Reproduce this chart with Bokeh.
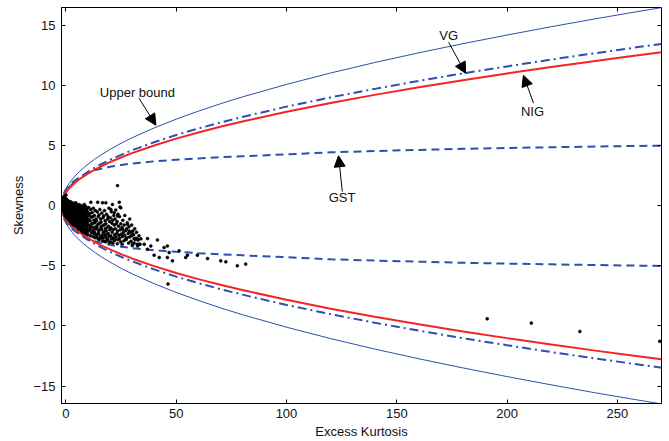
from bokeh.plotting import figure
from bokeh.models import Range1d, FixedTicker, LinearAxis, Label, Arrow, NormalHead
from bokeh.embed import file_html
from bokeh.resources import INLINE

# ---------------- data ----------------
kurt_grid = [-2, -1.8, -1.5, -1, -0.5, 0, 0.5, 1, 2, 3, 4, 6, 8, 10, 13, 16, 20, 25, 30,
             40, 50, 60, 70, 80, 100, 120, 140, 160, 180, 200, 220, 240, 255, 270]
upper_bound = [0, 0.45, 0.71, 1.0, 1.22, 1.41, 1.58, 1.73, 2.0, 2.24, 2.45, 2.83, 3.16, 3.46,
               3.87, 4.24, 4.69, 5.20, 5.66, 6.48, 7.21, 7.87, 8.49, 9.06, 10.10, 11.05,
               11.92, 12.73, 13.49, 14.21, 14.90, 15.56, 16.03, 16.49]
nig_bound = [0, 0.35, 0.55, 0.77, 0.95, 1.10, 1.22, 1.34, 1.55, 1.73, 1.90, 2.19, 2.45, 2.68,
             3.0, 3.29, 3.63, 4.02, 4.38, 5.02, 5.59, 6.10, 6.57, 7.01, 7.82, 8.56, 9.23,
             9.86, 10.45, 11.01, 11.54, 12.05, 12.42, 12.77]
vg_bound = [0, 0.37, 0.58, 0.82, 1.0, 1.15, 1.29, 1.41, 1.63, 1.83, 2.0, 2.31, 2.58, 2.83,
            3.16, 3.46, 3.83, 4.24, 4.62, 5.29, 5.89, 6.43, 6.93, 7.39, 8.25, 9.02, 9.73,
            10.39, 11.02, 11.60, 12.17, 12.70, 13.09, 13.47]
gst_bound = [0, 0.4, 0.7, 1.0, 1.2, 1.35, 1.5, 1.6, 1.8, 1.95, 2.1, 2.35, 2.55, 2.72, 2.95,
             3.08, 3.25, 3.4, 3.52, 3.7, 3.83, 3.94, 4.04, 4.12, 4.28, 4.45, 4.56, 4.65,
             4.74, 4.81, 4.87, 4.93, 4.97, 5.0]

# empirical (excess kurtosis, skewness) pairs
sample_pts = [
    (-1.5, 0.5), (-1.5, 0.2), (-1.5, -0.1), (-1.5, -0.3), (-1.5, 0.7),
    (-1.0, 0.6), (-1.0, 0.3), (-1.0, 0.0), (-1.0, -0.2), (-1.0, -0.5), (-1.0, 0.4),
    (-0.5, 0.8), (-0.5, 0.5), (-0.5, 0.1), (-0.5, -0.3), (-0.5, -0.6), (-0.5, -0.8), (-0.5, 0.2),
    (0.0, 0.6), (0.0, 0.3), (0.0, 0.0), (0.0, -0.4), (0.0, -0.7), (0.0, -0.9), (0.0, 0.9), (0.0, -0.2),
    (0.5, 0.5), (0.5, 0.1), (0.5, -0.2), (0.5, -0.6), (0.5, -0.9), (0.5, -1.0), (0.5, 0.3),
    (1.0, 0.4), (1.0, 0.0), (1.0, -0.3), (1.0, -0.5), (1.0, -0.8), (1.0, -1.1), (1.0, 0.2), (1.0, -0.7),
    (1.5, 0.3), (1.5, -0.1), (1.5, -0.4), (1.5, -0.7), (1.5, -0.9), (1.5, -1.2), (1.5, -0.2),
    (2.0, 0.35), (2.0, 0.05), (2.0, -0.3), (2.0, -0.6), (2.0, -0.85), (2.0, -1.1), (2.0, -1.3), (2.0, -0.45),
    (2.5, 0.2), (2.5, -0.15), (2.5, -0.5), (2.5, -0.75), (2.5, -1.0), (2.5, -1.25), (2.5, -1.4),
    (3.0, 0.25), (3.0, 0.0), (3.0, -0.35), (3.0, -0.65), (3.0, -0.9), (3.0, -1.15), (3.0, -1.4), (3.0, -1.5),
    (3.5, 0.1), (3.5, -0.2), (3.5, -0.5), (3.5, -0.8), (3.5, -1.05), (3.5, -1.3), (3.5, -1.55),
    (4.0, 0.2), (4.0, -0.1), (4.0, -0.4), (4.0, -0.7), (4.0, -0.95), (4.0, -1.2), (4.0, -1.45), (4.0, -1.65),
    (4.5, -0.05), (4.5, -0.3), (4.5, -0.6), (4.5, -0.85), (4.5, -1.1), (4.5, -1.35), (4.5, -1.6), (4.5, 0.15),
    (5.0, 0.05), (5.0, -0.25), (5.0, -0.55), (5.0, -0.8), (5.0, -1.05), (5.0, -1.3), (5.0, -1.55), (5.0, -1.75),
    (5.5, -0.15), (5.5, -0.45), (5.5, -0.75), (5.5, -1.0), (5.5, -1.25), (5.5, -1.5), (5.5, -1.7), (5.5, -1.85),
    (6.0, 0.1), (6.0, -0.2), (6.0, -0.5), (6.0, -0.8), (6.0, -1.1), (6.0, -1.35), (6.0, -1.6), (6.0, -1.8), (6.0, -1.95),
    (6.5, -0.1), (6.5, -0.4), (6.5, -0.7), (6.5, -0.95), (6.5, -1.2), (6.5, -1.45), (6.5, -1.7), (6.5, -1.9),
    (7.0, 0.0), (7.0, -0.3), (7.0, -0.6), (7.0, -0.9), (7.0, -1.15), (7.0, -1.4), (7.0, -1.65), (7.0, -1.85), (7.0, -2.05),
    (7.5, -0.2), (7.5, -0.5), (7.5, -0.8), (7.5, -1.05), (7.5, -1.3), (7.5, -1.55), (7.5, -1.8), (7.5, -2.0), (7.5, -2.15),
    (8.0, -0.1), (8.0, -0.45), (8.0, -0.75), (8.0, -1.0), (8.0, -1.25), (8.0, -1.5), (8.0, -1.75), (8.0, -1.95), (8.0, -2.2),
    (8.5, -0.3), (8.5, -0.6), (8.5, -0.9), (8.5, -1.2), (8.5, -1.45), (8.5, -1.7), (8.5, -1.9), (8.5, -2.1), (8.5, -2.25),
    (9.0, -0.05), (9.0, -0.4), (9.0, -0.7), (9.0, -1.0), (9.0, -1.3), (9.0, -1.55), (9.0, -1.8), (9.0, -2.0), (9.0, -2.3),
    (9.5, -0.25), (9.5, -0.55), (9.5, -0.85), (9.5, -1.15), (9.5, -1.4), (9.5, -1.65), (9.5, -1.9), (9.5, -2.15), (9.5, -2.35),
    (10.3, -0.15), (9.8, -0.5), (10.6, -0.8), (10.1, -1.1), (9.7, -1.35), (10.4, -1.6), (10.8, -1.85), (10.2, -2.1), (9.9, -2.4),
    (11.2, -0.3), (10.8, -0.65), (11.5, -0.95), (11.0, -1.25), (11.7, -1.5), (11.3, -1.75), (10.9, -2.0), (11.6, -2.25), (11.1, -2.5),
    (12.4, -0.2), (11.9, -0.55), (12.2, -0.9), (12.7, -1.2), (12.0, -1.5), (12.5, -1.8), (12.1, -2.05), (12.8, -2.3), (12.3, -2.55),
    (13.3, -0.4), (12.9, -0.8), (13.6, -1.1), (13.1, -1.4), (13.8, -1.7), (13.4, -1.95), (12.9, -2.2), (13.7, -2.45), (13.2, -2.65),
    (14.2, -0.5), (14.7, -0.9), (13.9, -1.25), (14.5, -1.55), (14.1, -1.85), (14.8, -2.1), (14.3, -2.35), (14.0, -2.6), (14.6, -2.75),
    (15.4, -0.3), (15.0, -0.75), (15.7, -1.1), (15.2, -1.45), (15.9, -1.75), (15.3, -2.0), (14.9, -2.3), (15.6, -2.55), (15.1, -2.8),
    (16.3, -0.6), (16.8, -1.0), (16.0, -1.35), (16.6, -1.65), (16.2, -1.95), (16.9, -2.2), (16.4, -2.45), (16.1, -2.7), (16.7, -2.9),
    (17.5, -0.4), (17.1, -0.85), (17.8, -1.25), (17.3, -1.6), (17.9, -1.9), (17.2, -2.15), (17.6, -2.4), (17.0, -2.65), (17.4, -2.95),
    (18.4, -0.7), (18.9, -1.1), (18.1, -1.5), (18.7, -1.8), (18.3, -2.1), (18.8, -2.35), (18.2, -2.6), (18.6, -2.85), (18.0, -3.0),
    (19.5, -0.2), (19.1, -0.9), (19.8, -1.3), (19.3, -1.7), (19.9, -2.0), (19.2, -2.3), (19.6, -2.55), (19.0, -2.8), (19.7, -3.05),
    (20.6, -0.5), (20.2, -1.0), (20.9, -1.45), (20.4, -1.85), (21.0, -2.2), (20.3, -2.5), (20.7, -2.75), (20.1, -3.0),
    (21.7, -0.8), (21.2, -1.2), (21.9, -1.6), (21.4, -2.0), (22.1, -2.4), (21.5, -2.65), (21.8, -2.9), (21.3, -3.1),
    (22.6, -0.35), (22.2, -1.1), (22.9, -1.5), (22.4, -1.9), (23.1, -2.3), (22.7, -2.6), (22.3, -2.85),
    (23.6, -0.7), (23.2, -1.3), (23.9, -1.7), (23.4, -2.1), (24.1, -2.45), (23.7, -2.8), (23.3, -3.15),
    (24.5, -0.1), (24.3, -0.9), (24.9, -1.5), (24.6, -2.0), (25.2, -2.35), (24.4, -2.7), (24.8, -3.0),
    (25.8, -1.2), (25.4, -1.8), (26.1, -2.2), (25.6, -2.55), (26.3, -2.9), (25.5, -3.2),
    (26.7, -0.8), (26.4, -1.6), (27.1, -2.05), (26.6, -2.45), (27.3, -2.8),
    (27.8, -1.4), (27.5, -1.9), (28.2, -2.3), (27.6, -2.65), (28.4, -3.1),
    (28.9, -1.1), (28.6, -1.75), (29.3, -2.2), (28.8, -2.6), (29.5, -2.95),
    (29.8, -1.6), (30.3, -2.1), (29.7, -2.5), (30.1, -3.3),
    (31.2, -1.9), (30.7, -2.4), (31.4, -2.8), (30.9, -3.1),
    (32.0, -2.2), (31.8, -2.7), (32.3, -3.2), (33.1, -2.5), (32.7, -2.85), (34.0, -2.75), (33.6, -3.2),
    (4.5, 0.25), (8.3, 0.11), (11.3, 0.3), (14.4, 0.3), (16.6, 0.25), (18.1, 0.25), (21.1, 0.11),
    (24.2, 0.3), (24.9, -0.17), (20.4, -0.31), (21.9, -0.58), (23.4, 1.68),
    (23.4, -0.85), (25.7, -1.96), (27.9, -1.54), (28.7, -2.09), (30.2, -2.37), (30.9, -2.73),
    (32.5, -2.78), (33.2, -3.2), (37.0, -2.73), (41.5, -2.84), (44.5, -3.48), (46.0, -3.34),
    (46.8, -3.89), (40.0, -4.11), (42.3, -4.30), (46.0, -4.30), (48.3, -4.58), (51.3, -3.75),
    (55.1, -4.11), (54.3, -4.30), (59.6, -4.11), (64.2, -4.39), (70.2, -4.58), (72.5, -4.66),
    (77.7, -4.99), (81.5, -4.85), (37.0, -3.61), (35.5, -3.2), (38.5, -3.34), (32.5, -3.34),
    (30.2, -3.2), (27.2, -2.73), (46.3, -6.5),
    (191.0, -9.4), (211.0, -9.76), (233.0, -10.45), (269.2, -11.28),
]
sample_kurt = [p[0] for p in sample_pts]
sample_skew = [p[1] for p in sample_pts]

x_ticks = [0, 50, 100, 150, 200, 250]
y_ticks = [-15, -10, -5, 0, 5, 10, 15]
y_tick_labels = {-15: "\u221215", -10: "\u221210", -5: "\u22125", 0: "0", 5: "5", 10: "10", 15: "15"}

# ---------------- figure ----------------
FONT = "Liberation Sans"
BLUE = "#2d4fae"
RED = "#f52424"

p = figure(width=669, height=441, output_backend="svg", toolbar_location=None,
           x_range=Range1d(-2, 270), y_range=Range1d(-16.45, 16.5),
           min_border_left=61, min_border_right=8, min_border_top=7, min_border_bottom=37)
p.xgrid.visible = False
p.ygrid.visible = False
p.outline_line_color = "black"
p.outline_line_alpha = 1.0
p.outline_line_width = 1
p.background_fill_color = "white"
p.border_fill_color = "white"

neg = lambda arr: [-v for v in arr]

p.line(kurt_grid, upper_bound, line_color=BLUE, line_width=1)
p.line(kurt_grid, neg(upper_bound), line_color=BLUE, line_width=1)
p.line(kurt_grid, gst_bound, line_color=BLUE, line_width=2, line_dash="8 5")
p.line(kurt_grid, neg(gst_bound), line_color=BLUE, line_width=2, line_dash="8 5")
p.line(kurt_grid, vg_bound, line_color=BLUE, line_width=2, line_dash="9 4 2 4")
p.line(kurt_grid, neg(vg_bound), line_color=BLUE, line_width=2, line_dash="9 4 2 4")
p.line(kurt_grid, nig_bound, line_color=RED, line_width=2)
p.line(kurt_grid, neg(nig_bound), line_color=RED, line_width=2)

p.scatter(sample_kurt, sample_skew, size=3, fill_color="black", line_color="black", line_width=0.5)

# axes
def style_axis(ax, ticks):
    ax.ticker = FixedTicker(ticks=ticks)
    ax.major_tick_in = 4
    ax.major_tick_out = 0
    ax.minor_tick_in = 0
    ax.minor_tick_out = 0
    ax.major_tick_line_color = "black"
    ax.axis_line_color = "black"
    ax.major_label_text_font = FONT
    ax.major_label_text_font_size = "13px"
    ax.major_label_text_color = "#111111"
    ax.axis_label_text_font = FONT
    ax.axis_label_text_font_size = "13px"
    ax.axis_label_text_font_style = "normal"
    ax.axis_label_text_color = "#111111"

style_axis(p.xaxis[0], x_ticks)
p.xaxis[0].axis_label = "Excess Kurtosis"
p.xaxis[0].major_label_standoff = 5
p.xaxis[0].axis_label_standoff = 3

style_axis(p.yaxis[0], y_ticks)
p.yaxis[0].axis_label = "Skewness"
p.yaxis[0].major_label_overrides = y_tick_labels
p.yaxis[0].major_label_standoff = 6
p.yaxis[0].axis_label_standoff = 4

# tick-only mirror axes on top and right (box style)
top_ax = LinearAxis()
style_axis(top_ax, x_ticks)
top_ax.major_label_overrides = {t: "" for t in x_ticks}
top_ax.major_label_standoff = 0
top_ax.axis_line_color = None
p.add_layout(top_ax, "above")

right_ax = LinearAxis()
style_axis(right_ax, y_ticks)
right_ax.major_label_overrides = {t: "" for t in y_ticks}
right_ax.major_label_standoff = 0
right_ax.axis_line_color = None
p.add_layout(right_ax, "right")

# annotations
def annotate(text, tx, ty, x0, y0, x1, y1):
    p.add_layout(Label(x=tx, y=ty, text=text, text_font=FONT, text_font_size="13px",
                       text_align="center", text_baseline="middle", text_color="#111111"))
    p.add_layout(Arrow(end=NormalHead(size=11, fill_color="black", line_color="black", line_width=1),
                       x_start=x0, y_start=y0, x_end=x1, y_end=y1,
                       line_color="black", line_width=1))

annotate("Upper bound", 32.4, 9.4, 33.1, 8.96, 40.8, 6.71)
annotate("VG", 173.5, 14.17, 173.5, 13.6, 181.2, 11.02)
annotate("NIG", 211.5, 7.88, 212.0, 8.54, 207.4, 10.86)
annotate("GST", 125.2, 0.69, 125.3, 1.18, 123.6, 4.16)

open("out.html", "w").write(file_html(p, INLINE))
